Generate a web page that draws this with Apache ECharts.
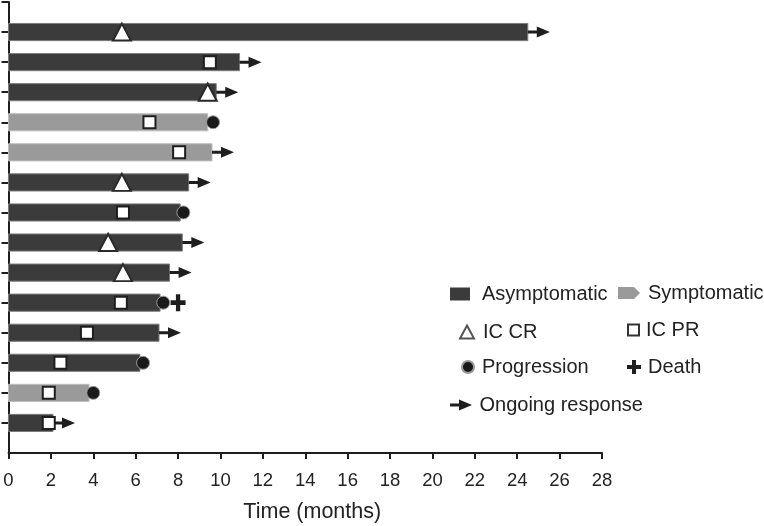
<!DOCTYPE html>
<html><head><meta charset="utf-8">
<script src="https://cdn.jsdelivr.net/npm/echarts@6/dist/echarts.min.js"></script>
<style>html,body{margin:0;padding:0;background:#fff}#c{width:764px;height:526px}</style>
</head><body><div id="c"></div>
<script>
// ---- data (row 1 = top) ----
const rows      = [1, 2, 3, 4, 5, 6, 7, 8, 9, 10, 11, 12, 13, 14];
const durations = [24.5, 10.9, 9.8, 9.4, 9.6, 8.5, 8.1, 8.2, 7.6, 7.15, 7.1, 6.2, 3.8, 2.1];
const groups    = ['A','A','A','S','S','A','A','A','A','A','A','A','S','A'];
const crRows    = [1, 3, 6, 8, 9];
const crTimes   = [5.35, 9.4, 5.35, 4.7, 5.4];
const prRows    = [2, 4, 5, 7, 10, 11, 12, 13, 14];
const prTimes   = [9.5, 6.65, 8.05, 5.4, 5.3, 3.7, 2.45, 1.9, 1.9];
const progRows  = [4, 7, 10, 12, 13];
const progTimes = [9.65, 8.25, 7.3, 6.35, 4.0];
const deathRows = [10];
const deathTimes= [8.0];
const ongoingRows = [1, 2, 3, 5, 6, 8, 9, 11, 14];
const xTicks = [0,2,4,6,8,10,12,14,16,18,20,22,24,26,28];

const FF = '"Liberation Sans", Arial, Helvetica, sans-serif';
const DARK = '#3b3b3b', GRAY = '#9a9a9a', INK = '#1e1e1e';

const asymData = rows.filter((r,i)=>groups[i]==='A').map(r=>[durations[r-1], r]);
const symData  = rows.filter((r,i)=>groups[i]==='S').map(r=>[durations[r-1], r]);
const pairs = (rs, ts) => rs.map((r,i)=>[ts[i], r]);
const ongoingData = ongoingRows.map(r=>[durations[r-1], r]);

function barRender(fill, stroke){
  return function(params, api){
    const end = api.value(0), row = api.value(1);
    const p0 = api.coord([0, row]);
    const p1 = api.coord([end, row]);
    const h = api.size([0, 1])[1] * 0.57;
    return {type:'rect', shape:{x:p0[0], y:p0[1]-h/2, width:p1[0]-p0[0], height:h},
            style:{fill:fill, stroke:stroke, lineWidth:1}};
  };
}

const ARROW = 'path://M0,4 L9,4 L9,0 L22,5.5 L9,11 L9,7 L0,7 Z';
const PLUS  = 'path://M5,0 L9,0 L9,5 L14,5 L14,9 L9,9 L9,14 L5,14 L5,9 L0,9 L0,5 L5,5 Z';
const PENT  = 'path://M0,0 L16,0 L22,6 L16,12 L0,12 Z';

function lg(item, left, cy, iw, ih, pad, extra){
  return Object.assign({
    data:[item], left:left, top:cy-11, itemWidth:iw, itemHeight:ih, padding:0,
    selectedMode:false, orient:'horizontal',
    textStyle:{fontSize:20, lineHeight:22, color:'#222', fontFamily:FF, padding:[0,0,0,pad]}
  }, extra||{});
}

const chart = echarts.init(document.getElementById('c'), null, {renderer:'canvas'});
chart.setOption({
  animation:false,
  backgroundColor:'#fff',
  grid:{left:8.5, right:162, top:2, bottom:73, containLabel:false, outerBoundsMode:'none'},
  xAxis:{
    type:'value', min:0, max:28, interval:2, position:'bottom',
    axisLine:{show:true, onZero:false, lineStyle:{color:INK, width:2}},
    axisTick:{show:true, length:6, lineStyle:{color:INK, width:2}},
    axisLabel:{fontSize:18.5, color:'#222', fontFamily:FF, margin:18, customValues:xTicks},
    splitLine:{show:false},
    name:'Time (months)', nameLocation:'middle', nameGap:48,
    nameTextStyle:{fontSize:21.5, color:'#222', fontFamily:FF, padding:[0,0,0,14]}
  },
  yAxis:{
    type:'value', inverse:true, min:0, max:15, interval:1,
    axisLine:{show:true, onZero:false, lineStyle:{color:INK, width:2}},
    axisTick:{show:true, length:7, lineStyle:{color:INK, width:2}, customValues:[0].concat(rows)},
    axisLabel:{show:false},
    splitLine:{show:false}
  },
  legend:[
    lg({name:'Asymptomatic', icon:'rect'}, 450, 294, 20, 13, 7),
    lg({name:'Symptomatic', icon:PENT}, 618, 293, 22, 13, 3),
    lg('IC CR', 459, 332, 14, 13, 4, {itemStyle:{borderWidth:2, borderColor:'#555', color:'#fff'}}),
    lg('IC PR', 627, 330, 11, 11, 2, {itemStyle:{borderWidth:2, borderColor:'#333', color:'#fff'}}),
    lg('Progression', 461, 367, 12, 12, 3),
    lg('Death', 627, 367, 14, 14, 2),
    lg('Ongoing response', 450, 405, 27, 11, 0)
  ],
  series:[
    {type:'custom', name:'Asymptomatic', data:asymData, encode:{x:0, y:1},
     itemStyle:{color:DARK}, renderItem:barRender(DARK, '#7c7c7c'), z:2},
    {type:'custom', name:'Symptomatic', data:symData, encode:{x:0, y:1},
     itemStyle:{color:GRAY}, renderItem:barRender(GRAY, '#bdbdbd'), z:2},
    {type:'scatter', name:'Ongoing response', data:ongoingData, symbol:ARROW,
     symbolSize:[22,11], symbolOffset:[11,0], itemStyle:{color:INK, opacity:1}, z:3},
    {type:'scatter', name:'Progression', data:pairs(progRows, progTimes), symbol:'circle',
     symbolSize:13, itemStyle:{color:'#1a1a1a', borderColor:'#9a9a9a', borderWidth:1, opacity:1}, z:4},
    {type:'scatter', name:'Death', data:pairs(deathRows, deathTimes), symbol:PLUS,
     symbolSize:[15,17], itemStyle:{color:INK, opacity:1}, z:4},
    {type:'scatter', name:'IC CR', data:pairs(crRows, crTimes), symbol:'triangle',
     symbolSize:[18,17], itemStyle:{color:'#fff', borderColor:'#2a2a2a', borderWidth:2, opacity:1}, z:5},
    {type:'scatter', name:'IC PR', data:pairs(prRows, prTimes), symbol:'rect',
     symbolSize:12, itemStyle:{color:'#fff', borderColor:'#1e1e1e', borderWidth:2, opacity:1}, z:5}
  ]
});
</script></body></html>
